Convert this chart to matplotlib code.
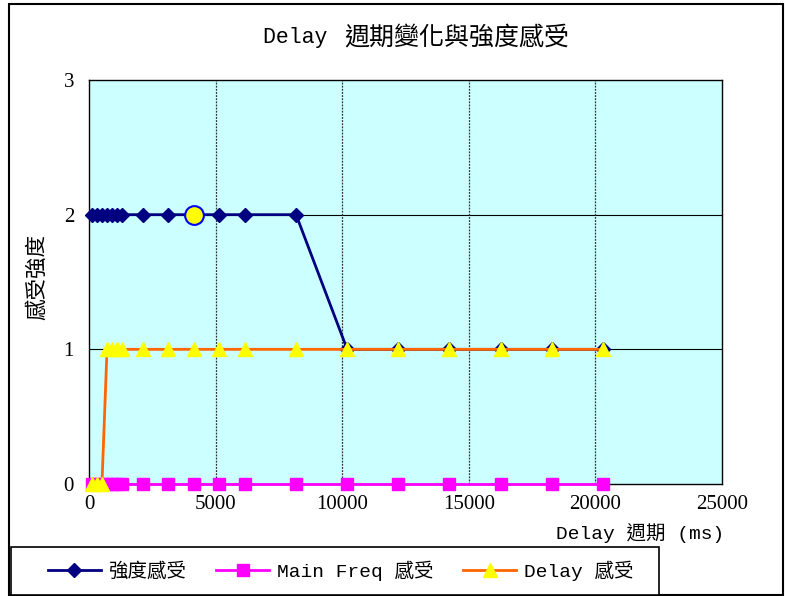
import matplotlib
matplotlib.use("Agg")
import matplotlib.pyplot as plt
from matplotlib.lines import Line2D
from matplotlib.patches import Rectangle

plt.rcParams['font.family'] = ['Liberation Mono', 'Noto Sans CJK TC', 'DejaVu Sans']

# Delay period (ms) of each trial
delay_ms = [110, 300, 500, 700, 900, 1100, 1300, 2110, 3120, 4130, 5140,
            6150, 8170, 10190, 12210, 14230, 16250, 18270, 20290]
# Perceived strength per series
strength = [2, 2, 2, 2, 2, 2, 2, 2, 2, 2, 2, 2, 2, 1, 1, 1, 1, 1, 1]
main_freq = [0] * len(delay_ms)
delay_feel = [0, 0, 0, 1, 1, 1, 1, 1, 1, 1, 1, 1, 1, 1, 1, 1, 1, 1, 1]
highlight_idx = 9

labels = ['強度感受', 'Main Freq 感受', 'Delay 感受']
x_ticks = [0, 5000, 10000, 15000, 20000, 25000]
y_ticks = [0, 1, 2, 3]

W, H = 785, 596
fig = plt.figure(figsize=(W / 100, H / 100), dpi=100)
fig.patch.set_facecolor('white')


def fx(px):
    return px / W


def fy(py):
    return 1 - py / H


# outer chart frame
fig.patches.append(Rectangle((fx(9), fy(595)), fx(783) - fx(9), fy(4) - fy(595),
                             transform=fig.transFigure, fill=False,
                             edgecolor='black', linewidth=1.5, zorder=0))
# legend frame
fig.patches.append(Rectangle((fx(11), fy(595)), fx(659) - fx(11), fy(547) - fy(595),
                             transform=fig.transFigure, facecolor='white',
                             edgecolor='black', linewidth=1.2, zorder=1))

ax = fig.add_axes([fx(89.3), fy(484), fx(722) - fx(89.3), fy(80) - fy(484)])
ax.set_facecolor('#CCFFFF')
ax.set_xlim(0, 25000)
ax.set_ylim(0, 3)
ax.set_xticks(x_ticks)
ax.set_yticks(y_ticks)
ax.tick_params(length=0, labelsize=15)
ax.tick_params(axis='x', pad=8)
ax.tick_params(axis='y', pad=11)
for lab in ax.get_xticklabels() + ax.get_yticklabels():
    lab.set_family(['Liberation Serif'])

for y in [1, 2]:
    ax.axhline(y, color='black', linewidth=0.8, zorder=1)
for x in [5000, 10000, 15000, 20000]:
    ax.axvline(x, color='#333333', linewidth=0.9, linestyle=(0, (1.5, 1)), zorder=1)
for s in ax.spines.values():
    s.set_color('black')
    s.set_linewidth(1.0)

ax.plot(delay_ms, strength, color='#000080', linewidth=2, marker='D',
        markersize=7.5, markerfacecolor='#000080', markeredgecolor='#000080',
        clip_on=False, zorder=3)
ax.plot(delay_ms, main_freq, color='#FF00FF', linewidth=2, marker='s',
        markersize=9, markerfacecolor='#FF00FF', markeredgecolor='#FF00FF',
        clip_on=False, zorder=4)
ax.plot(delay_ms, delay_feel, color='#FF6600', linewidth=2, marker='^',
        markersize=10, markerfacecolor='#FFFF00', markeredgecolor='#FFFF00',
        clip_on=False, zorder=5)
ax.plot([delay_ms[highlight_idx]], [strength[highlight_idx]], marker='o',
        markersize=13.5, markerfacecolor='#FFFF00', markeredgecolor='#0000FF',
        markeredgewidth=1.5, linestyle='none', clip_on=False, zorder=6)

# title: Latin part and CJK part set side by side
fig.text(fx(263), fy(38), 'Delay ', ha='left', va='center', fontsize=15.5)
fig.text(fx(344), fy(38), '週期變化與強度感受', ha='left', va='center',
         fontsize=18, family=['Noto Sans CJK TC'])

fig.text(fx(724), fy(533), 'Delay 週期 (ms)', ha='right', va='center',
         fontsize=14)
fig.text(fx(38), fy(277), '感受強度', ha='center', va='center',
         rotation=90, fontsize=15.5)

handles = [
    Line2D([], [], color='#000080', linewidth=2, marker='D', markersize=7.5,
           markerfacecolor='#000080', markeredgecolor='#000080'),
    Line2D([], [], color='#FF00FF', linewidth=2, marker='s', markersize=9,
           markerfacecolor='#FF00FF', markeredgecolor='#FF00FF'),
    Line2D([], [], color='#FF6600', linewidth=2, marker='^', markersize=10,
           markerfacecolor='#FFFF00', markeredgecolor='#FFFF00'),
]
leg = fig.legend(handles, labels, loc='center left',
                 bbox_to_anchor=(fx(48), fy(571)),
                 ncol=3, frameon=False, fontsize=14,
                 handlelength=2.7, columnspacing=1.55, handletextpad=0.4,
                 borderpad=0, borderaxespad=0)
leg.set_zorder(2)

fig.savefig('out.png', dpi=100)
